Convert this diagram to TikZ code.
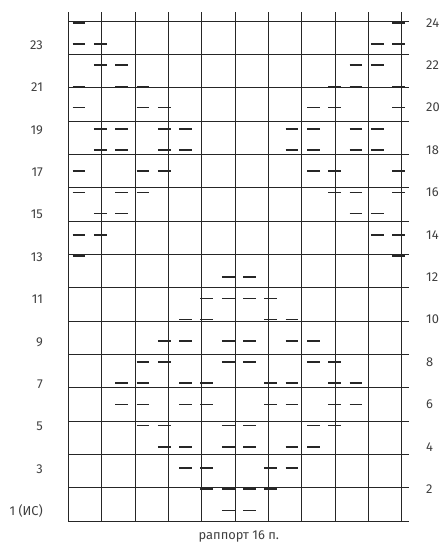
\documentclass[tikz,border=0pt]{standalone}
\usepackage{fontspec}
\setmainfont{Fira Sans}
\usetikzlibrary{positioning}

\begin{document}
\begin{tikzpicture}[
  x=0.6393cm, y=0.636cm,
  cell/.style={draw=black!85, line width=0.6pt},
  purl/.style={line width=1.5pt, black!85},
  rowlbl/.style={font=\fontsize{11}{13}\selectfont, text=black!75},
]
\useasboundingbox (-3.206,-1.792) rectangle (17.63,24.575);
% chart grid, 16 stitches x 24 rows
\draw[cell] (0,0) grid (16,24);
% purl stitches: row / columns
\foreach \r/\cols in {24/{1,16}, 23/{1,2,15,16}, 22/{2,3,14,15},
    21/{1,3,4,13,14,16}, 20/{1,4,5,12,13,16}, 19/{2,3,5,6,11,12,14,15},
    18/{2,3,5,6,11,12,14,15}, 17/{1,4,5,12,13,16}, 16/{1,3,4,13,14,16},
    15/{2,3,14,15}, 14/{1,2,15,16}, 13/{1,16}, 12/{8,9}, 11/{7,8,9,10},
    10/{6,7,10,11}, 9/{5,6,8,9,11,12}, 8/{4,5,8,9,12,13},
    7/{3,4,6,7,10,11,13,14}, 6/{3,4,6,7,10,11,13,14}, 5/{4,5,8,9,12,13},
    4/{5,6,8,9,11,12}, 3/{6,7,10,11}, 2/{7,8,9,10}, 1/{8,9}}
  \foreach \c in \cols
    \draw[purl] (\c-0.8,\r-0.5) -- (\c-0.2,\r-0.5);
% row numbers
\foreach \r in {3,5,...,23}
  \node[rowlbl, anchor=east] (left\r) at (-1,\r-0.55) {\r};
\node[rowlbl, anchor=east] (left1) at (-1,0.45) {1 (ИС)};
\foreach \r in {2,4,...,24}
  \node[rowlbl, anchor=west] (right\r) at (16.6,\r-0.5) {\r};
% repeat
\node[rowlbl] (repeat) at (8,-0.72) {раппорт 16 п.};
\end{tikzpicture}
\end{document}
